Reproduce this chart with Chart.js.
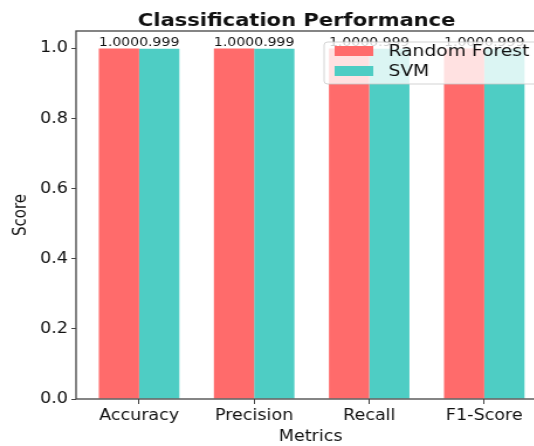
<!DOCTYPE html>
<html>
<head>
<meta charset="utf-8">
<script src="https://cdn.jsdelivr.net/npm/chart.js@4.4.1/dist/chart.umd.min.js"></script>
<style>
  html, body { margin: 0; padding: 0; background: #fff; overflow: hidden; }
  /* the reference picture is stretched sideways, so the canvas is too */
  #wrap { width: 507px; height: 446px; transform: scale(1.17, 1); transform-origin: 0 0; }
</style>
</head>
<body>
<div id="wrap"><canvas id="perfChart" width="507" height="446"></canvas></div>
<script>
// values
const categories = ['Accuracy', 'Precision', 'Recall', 'F1-Score'];
const rfScores = [1.000, 1.000, 1.000, 1.000];
const svmScores = [0.999, 0.999, 0.999, 0.999];
const yTicks = [0, 0.2, 0.4, 0.6, 0.8, 1.0];
const chartTitle = 'Classification Performance';

const FONT = "'DejaVu Sans', sans-serif";

// value labels over each bar
const barLabels = {
    id: 'barLabels',
    afterDatasetsDraw(chart) {
        const ctx = chart.ctx;
        ctx.save();
        ctx.font = '12px ' + FONT;
        ctx.fillStyle = '#111';
        ctx.textAlign = 'center';
        ctx.textBaseline = 'alphabetic';
        chart.data.datasets.forEach((ds, i) => {
            chart.getDatasetMeta(i).data.forEach((bar, j) => {
                ctx.fillText(ds.data[j].y.toFixed(3), bar.x, bar.y - 3);
            });
        });
        ctx.restore();
    }
};

// axes frame (matplotlib style spines)
const frame = {
    id: 'frame',
    afterDatasetsDraw(chart) {
        const {left, top, right, bottom} = chart.chartArea;
        const ctx = chart.ctx;
        ctx.save();
        ctx.strokeStyle = '#444';
        ctx.lineWidth = 1.3;
        ctx.strokeRect(left, top, right - left, bottom - top);
        ctx.restore();
    }
};

// title centred on the whole figure, not on the chart box
const figTitle = {
    id: 'figTitle',
    afterDraw(chart) {
        const ctx = chart.ctx;
        ctx.save();
        ctx.font = 'bold 18px ' + FONT;
        ctx.fillStyle = '#111';
        ctx.textAlign = 'center';
        ctx.textBaseline = 'alphabetic';
        ctx.fillText(chartTitle, chart.width / 2, 26);
        ctx.restore();
    }
};

// legend drawn inside the plot, over the bars
const innerLegend = {
    id: 'innerLegend',
    afterDraw(chart) {
        const ctx = chart.ctx;
        const x = 277, y = 42, w = 186, h = 42;
        ctx.save();
        ctx.beginPath();
        ctx.roundRect(x, y, w, h, 3);
        ctx.fillStyle = 'rgba(255,255,255,0.8)';
        ctx.fill();
        ctx.strokeStyle = 'rgba(200,200,200,0.8)';
        ctx.lineWidth = 1;
        ctx.stroke();
        ctx.font = '16px ' + FONT;
        ctx.textBaseline = 'middle';
        ctx.textAlign = 'left';
        chart.data.datasets.forEach((ds, i) => {
            const rowY = 51 + i * 20;
            ctx.fillStyle = ds.backgroundColor;
            ctx.fillRect(286, rowY - 5, 33, 10);
            ctx.fillStyle = '#111';
            ctx.fillText(ds.label, 332, rowY + 1);
        });
        ctx.restore();
    }
};

new Chart(document.getElementById('perfChart'), {
    type: 'bar',
    data: {
        datasets: [
            {
                label: 'Random Forest',
                data: categories.map((c, i) => ({x: i, y: rfScores[i]})),
                backgroundColor: '#FF6B6B',
                borderWidth: 0
            },
            {
                label: 'SVM',
                data: categories.map((c, i) => ({x: i, y: svmScores[i]})),
                backgroundColor: '#4ECDC4',
                borderWidth: 0
            }
        ]
    },
    options: {
        responsive: false,
        animation: false,
        categoryPercentage: 0.7,
        barPercentage: 1.0,
        layout: { padding: { left: 0, right: 41, top: 31, bottom: 0 } },
        plugins: {
            legend: { display: false },
            tooltip: { enabled: false },
            title: { display: false }
        },
        scales: {
            x: {
                type: 'linear',
                min: -0.548,
                max: 3.53,
                offset: false,
                afterFit(scale) { scale.height = 47; },
                afterBuildTicks(scale) {
                    scale.ticks = categories.map((c, i) => ({value: i}));
                },
                ticks: {
                    color: '#111',
                    padding: 3,
                    maxRotation: 0,
                    autoSkip: false,
                    font: { family: FONT, size: 15 },
                    callback: (v) => categories[v]
                },
                grid: { display: true, offset: false, drawOnChartArea: false, drawTicks: true, tickLength: 5, color: '#444' },
                border: { display: false },
                title: {
                    display: true,
                    text: 'Metrics',
                    color: '#111',
                    font: { family: FONT, size: 15 },
                    padding: { top: 3, bottom: 0 }
                }
            },
            y: {
                min: 0,
                max: 1.05,
                afterFit(scale) { scale.width = 65; },
                afterBuildTicks(scale) {
                    scale.ticks = yTicks.map(v => ({value: v}));
                },
                ticks: {
                    color: '#111',
                    padding: 3,
                    font: { family: FONT, size: 15 },
                    callback: (v) => v.toFixed(1)
                },
                grid: { display: true, drawOnChartArea: false, drawTicks: true, tickLength: 4, color: '#444' },
                border: { display: false },
                title: {
                    display: true,
                    text: 'Score',
                    color: '#111',
                    font: { family: FONT, size: 15 },
                    padding: { top: 9, bottom: 0 }
                }
            }
        }
    },
    plugins: [barLabels, frame, figTitle, innerLegend]
});
</script>
</body>
</html>
